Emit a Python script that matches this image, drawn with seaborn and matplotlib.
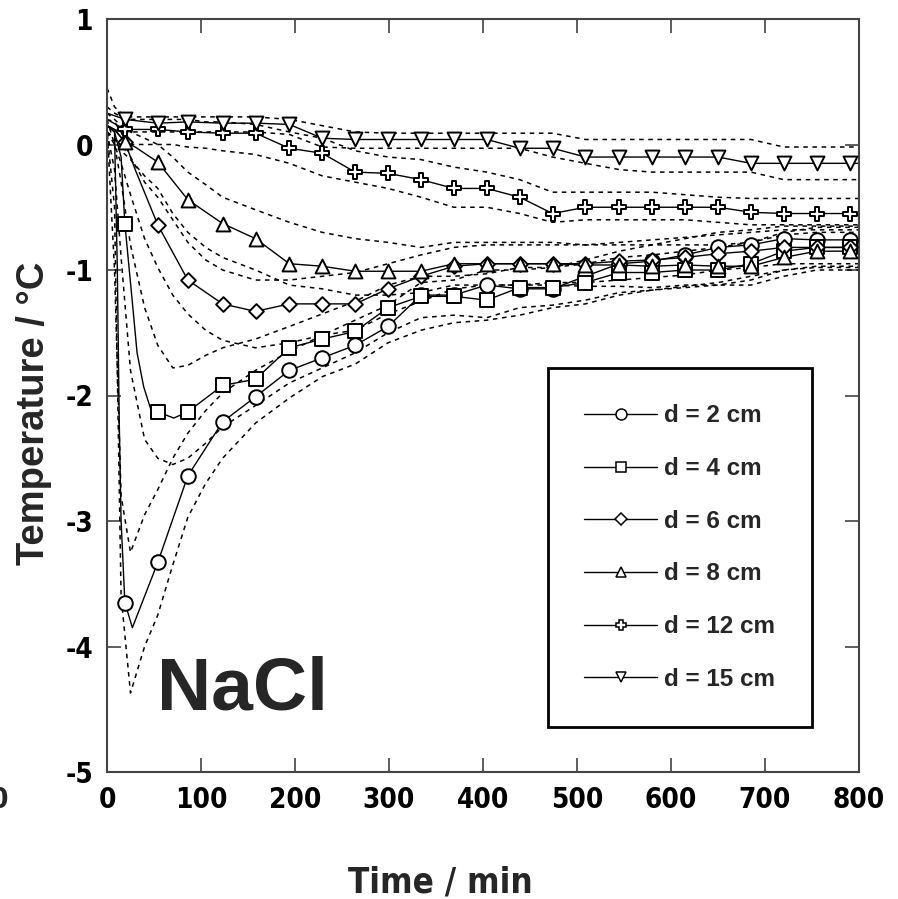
import numpy as np
import pandas as pd
import matplotlib
matplotlib.use("Agg")
import matplotlib.pyplot as plt
import seaborn as sns
from matplotlib.lines import Line2D
from matplotlib import font_manager

# ---- data ----
# times where the symbols sit (min)
t_mk = [19, 54, 86, 123, 158, 194, 229, 264, 299, 334, 369, 404, 439, 474,
        509, 545, 580, 615, 650, 685, 720, 755, 790]

# mean curves
t2 = [0, 8, 11, 13, 15, 19, 27, 54, 86, 123, 158, 194, 229, 264, 299, 334, 369,
      404, 439, 474, 509, 545, 580, 615, 650, 685, 720, 755, 790, 800]
m2 = [0.15, 0.1, -1.0, -2.2, -3.0, -3.65, -3.85, -3.33, -2.64, -2.21, -2.01, -1.80,
      -1.70, -1.60, -1.45, -1.20, -1.20, -1.12, -1.15, -1.15, -1.05, -0.95, -0.93,
      -0.88, -0.82, -0.80, -0.75, -0.76, -0.76, -0.76]

t4 = [0, 8, 15, 19, 27, 32, 39, 47, 54, 71, 86, 123, 158, 194, 229, 264, 299, 334,
      369, 404, 439, 474, 509, 545, 580, 615, 650, 685, 720, 755, 790, 800]
m4 = [0.15, 0.1, -0.1, -0.63, -1.26, -1.66, -1.93, -2.12, -2.13, -2.18, -2.13, -1.92,
      -1.87, -1.62, -1.55, -1.49, -1.30, -1.21, -1.21, -1.24, -1.14, -1.14, -1.10,
      -1.02, -1.02, -1.00, -1.00, -0.95, -0.85, -0.82, -0.82, -0.82]

t6 = [0, 8, 19, 30, 54, 86, 123, 158, 194, 229, 264, 299, 334, 369, 404, 439, 474,
      509, 545, 580, 615, 650, 685, 720, 755, 790, 800]
m6 = [0.15, 0.12, 0.02, -0.2, -0.64, -1.08, -1.27, -1.33, -1.27, -1.27, -1.27, -1.15,
      -1.05, -0.97, -0.95, -0.95, -0.95, -0.95, -0.93, -0.92, -0.90, -0.87, -0.85,
      -0.82, -0.82, -0.82, -0.82]

t8 = [0, 8, 19, 30, 54, 86, 123, 158, 194, 229, 264, 299, 334, 369, 404, 439, 474,
      509, 545, 580, 615, 650, 685, 720, 755, 790, 800]
m8 = [0.15, 0.12, 0.02, -0.02, -0.14, -0.44, -0.63, -0.75, -0.95, -0.97, -1.01, -1.01,
      -1.01, -0.95, -0.95, -0.95, -0.95, -0.96, -0.96, -0.97, -0.96, -0.97, -0.97,
      -0.90, -0.85, -0.85, -0.85]

t12 = [0, 19, 54, 86, 123, 158, 194, 229, 264, 299, 334, 369, 404, 439, 474, 509,
       545, 580, 615, 650, 685, 720, 755, 790, 800]
m12 = [0.2, 0.12, 0.12, 0.1, 0.09, 0.09, -0.03, -0.07, -0.22, -0.23, -0.28, -0.35,
       -0.35, -0.42, -0.55, -0.50, -0.50, -0.50, -0.50, -0.50, -0.54, -0.55, -0.55,
       -0.55, -0.55]

t15 = [0, 19, 54, 86, 123, 158, 194, 229, 264, 299, 334, 369, 404, 439, 474, 509,
       545, 580, 615, 650, 685, 720, 755, 790, 800]
m15 = [0.25, 0.2, 0.17, 0.18, 0.17, 0.17, 0.16, 0.05, 0.04, 0.04, 0.04, 0.04, 0.04,
       -0.03, -0.03, -0.10, -0.10, -0.10, -0.10, -0.10, -0.15, -0.15, -0.15, -0.15,
       -0.15]

# dotted upper / lower bounds
t_band = [0, 8, 15, 25, 40, 54, 70, 86, 105, 123, 158, 194, 229, 264, 299, 334, 369,
          404, 439, 474, 509, 545, 580, 615, 650, 685, 720, 755, 800]
u2 = [0.15, -1.0, -2.8, -3.25, -2.95, -2.75, -2.5, -2.3, -2.12, -1.98, -1.8, -1.65,
      -1.52, -1.4, -1.28, -1.1, -1.08, -1.0, -1.0, -0.98, -0.92, -0.85, -0.8, -0.75,
      -0.7, -0.68, -0.65, -0.65, -0.65]
l2 = [0.1, -0.5, -3.6, -4.37, -4.0, -3.75, -3.35, -2.97, -2.7, -2.5, -2.22, -2.02,
      -1.85, -1.75, -1.58, -1.48, -1.42, -1.4, -1.36, -1.3, -1.27, -1.2, -1.16, -1.13,
      -1.1, -1.05, -1.0, -0.98, -0.98]
u4 = [0.2, 0.0, -0.3, -0.8, -1.3, -1.6, -1.78, -1.76, -1.68, -1.62, -1.55, -1.45,
      -1.35, -1.25, -1.12, -1.05, -1.05, -1.03, -0.98, -0.98, -0.95, -0.9, -0.88,
      -0.85, -0.82, -0.78, -0.7, -0.66, -0.66]
l4 = [0.1, -0.2, -0.9, -1.8, -2.35, -2.5, -2.55, -2.5, -2.38, -2.25, -2.08, -1.9,
      -1.78, -1.66, -1.5, -1.38, -1.36, -1.38, -1.3, -1.28, -1.24, -1.18, -1.16,
      -1.14, -1.12, -1.08, -1.0, -0.97, -0.97]
u6 = [0.2, 0.18, 0.1, -0.1, -0.3, -0.42, -0.6, -0.78, -0.92, -1.0, -1.08, -1.08,
      -1.05, -1.02, -0.95, -0.88, -0.82, -0.8, -0.8, -0.8, -0.8, -0.78, -0.76, -0.74,
      -0.72, -0.7, -0.68, -0.68, -0.68]
l6 = [0.1, 0.0, -0.15, -0.4, -0.75, -0.98, -1.2, -1.35, -1.48, -1.56, -1.62, -1.58,
      -1.52, -1.48, -1.35, -1.25, -1.15, -1.12, -1.12, -1.1, -1.1, -1.08, -1.06, -1.04,
      -1.0, -0.98, -0.95, -0.95, -0.95]
u8 = [0.25, 0.2, 0.15, 0.1, 0.05, 0.0, -0.1, -0.22, -0.32, -0.42, -0.52, -0.62, -0.7,
      -0.75, -0.78, -0.82, -0.78, -0.78, -0.78, -0.78, -0.8, -0.8, -0.8, -0.8, -0.8,
      -0.78, -0.72, -0.7, -0.7]
l8 = [0.1, 0.05, -0.05, -0.12, -0.25, -0.35, -0.55, -0.7, -0.82, -0.9, -1.0, -1.12,
      -1.15, -1.2, -1.2, -1.18, -1.12, -1.12, -1.12, -1.12, -1.13, -1.13, -1.14, -1.12,
      -1.12, -1.12, -1.05, -1.0, -1.0]
u12 = [0.3, 0.25, 0.22, 0.2, 0.2, 0.2, 0.2, 0.2, 0.18, 0.18, 0.16, 0.1, 0.05, -0.05,
       -0.1, -0.12, -0.18, -0.22, -0.28, -0.38, -0.38, -0.38, -0.38, -0.4, -0.42,
       -0.43, -0.43, -0.43, -0.43]
l12 = [0.1, 0.05, 0.0, 0.0, 0.0, 0.0, 0.0, -0.02, -0.03, -0.05, -0.08, -0.15, -0.25,
       -0.3, -0.35, -0.42, -0.5, -0.5, -0.55, -0.62, -0.6, -0.6, -0.6, -0.6, -0.62,
       -0.64, -0.64, -0.64, -0.64]
u15 = [0.45, 0.3, 0.25, 0.22, 0.22, 0.22, 0.22, 0.22, 0.22, 0.22, 0.22, 0.2, 0.15,
       0.1, 0.09, 0.09, 0.09, 0.09, 0.09, 0.09, 0.04, 0.04, 0.04, 0.04, 0.04, 0.04,
       -0.02, -0.02, -0.02]
l15 = [0.15, 0.12, 0.1, 0.1, 0.1, 0.1, 0.1, 0.1, 0.1, 0.1, 0.1, 0.08, -0.02, -0.03,
       -0.03, -0.03, -0.03, -0.03, -0.03, -0.1, -0.15, -0.2, -0.22, -0.22, -0.22,
       -0.22, -0.28, -0.28, -0.28]

labels = ["d = 2 cm", "d = 4 cm", "d = 6 cm", "d = 8 cm", "d = 12 cm", "d = 15 cm"]
markers = ["o", "s", "D", "^", "P", "v"]
msizes = [10.5, 10.5, 7.5, 10, 10, 10]

series = [(t2, m2, u2, l2), (t4, m4, u4, l4), (t6, m6, u6, l6),
          (t8, m8, u8, l8), (t12, m12, u12, l12), (t15, m15, u15, l15)]

# ---- fonts ----
sns.set_style("ticks")
plt.rcParams["font.family"] = ["Liberation Sans", "DejaVu Sans"]
plt.rcParams["axes.unicode_minus"] = False

# narrow bold face for the numbers if one is installed
narrow = None
for f in font_manager.fontManager.ttflist:
    if "Narrow" in f.name or f.stretch in ("condensed", "semi-condensed"):
        if f.weight in ("bold", 700):
            narrow = f.fname
            break
if narrow:
    num_font = font_manager.FontProperties(fname=narrow, size=20)
    lab_font = font_manager.FontProperties(fname=narrow, size=25)
else:
    num_font = font_manager.FontProperties(family="Liberation Sans", weight="bold", size=18)
    lab_font = font_manager.FontProperties(family="Liberation Sans", weight="bold", size=22)

fig = plt.figure(figsize=(8.98, 8.99), dpi=100)
ax = fig.add_axes([107 / 898, 1 - 772 / 899, 752 / 898, 753 / 899])

for t, m, u, l in series:
    for band in (u, l):
        sns.lineplot(x=t_band, y=band, ax=ax, color="black", linewidth=1.1,
                     linestyle=(0, (3, 3)), estimator=None, sort=False, zorder=1)

for (t, m, u, l), mk, ms in zip(series, markers, msizes):
    sns.lineplot(x=t, y=m, ax=ax, color="black", linewidth=1.0,
                 estimator=None, sort=False, zorder=2)
    df = pd.DataFrame({"t": t, "T": m})
    df = df[df["t"].isin(t_mk)]
    sns.scatterplot(data=df, x="t", y="T", ax=ax, marker=mk, s=ms ** 2,
                    color="white", edgecolor="black", linewidth=1.4, zorder=3)

ax.set_xlim(0, 800)
ax.set_ylim(-5, 1)
ax.set_xticks(range(0, 801, 100))
ax.set_yticks(range(-5, 2))
ax.tick_params(direction="in", length=10, width=1.1, top=True, right=True,
               colors="#333333", labelcolor="black", pad=10)
for lab in ax.get_xticklabels() + ax.get_yticklabels():
    lab.set_fontproperties(num_font)
for sp in ax.spines.values():
    sp.set_linewidth(1.5)
    sp.set_color("#444444")

ax.set_xlabel("Time / min", fontproperties=lab_font)
ax.set_ylabel("Temperature / °C", fontsize=27.5, fontweight="bold")
ax.xaxis.set_label_coords(0.443, -0.124)
ax.yaxis.set_label_coords(-0.073, 0.476)

ax.text(0.18, 0.109, "NaCl", transform=ax.transAxes, fontsize=54,
        fontweight="bold", ha="center", va="center")

# cut-off tick label of the neighbouring panel
fig.text(0.0, 1 - 800 / 899, "0", fontproperties=num_font,
         ha="center", va="center")

handles = [Line2D([0], [0], color="black", linewidth=1.0, marker=mk,
                  markersize=ms * 0.75, markerfacecolor="white",
                  markeredgecolor="black", markeredgewidth=1.1)
           for mk, ms in zip(markers, msizes)]
leg = ax.legend(handles, labels, loc="upper left", bbox_to_anchor=(0.586, 0.5365),
                prop={"weight": "bold", "size": 17.5}, frameon=True, fancybox=False,
                edgecolor="black", framealpha=1, borderpad=1.5, labelspacing=1.22,
                handlelength=3.0, handletextpad=0.3, borderaxespad=0)
leg.get_frame().set_linewidth(2.0)

fig.savefig("out.png", dpi=100)
